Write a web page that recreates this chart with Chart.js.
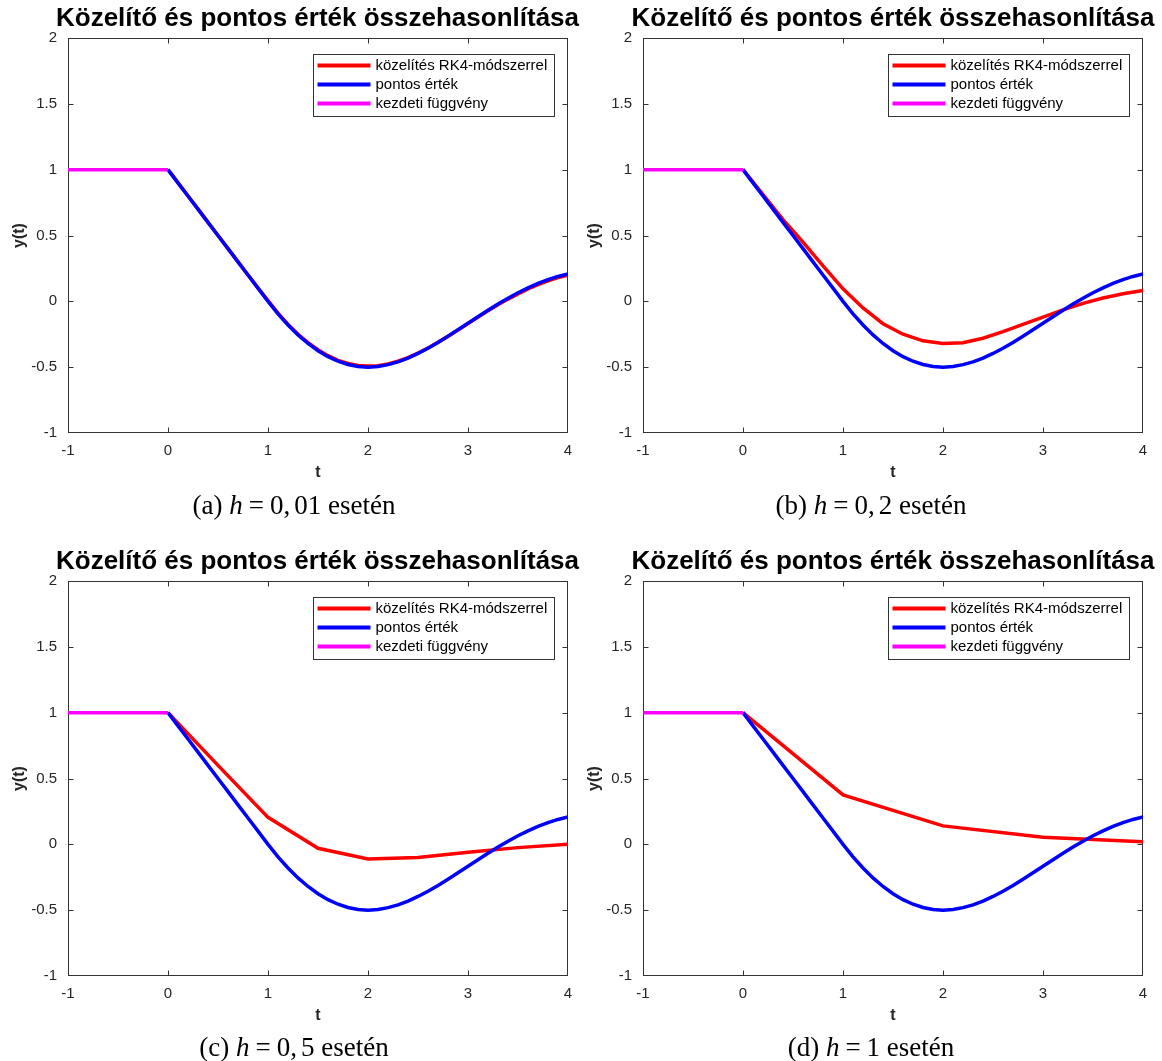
<!DOCTYPE html>
<html>
<head>
<meta charset="utf-8">
<title>Közelítő és pontos érték összehasonlítása</title>
<script src="https://cdn.jsdelivr.net/npm/chart.js@4.4.1/dist/chart.umd.min.js"></script>
<style>
  html, body { margin: 0; padding: 0; background: #fff; }
  #page { position: relative; width: 1162px; height: 1061px; overflow: hidden; background: #fff; }
  #page canvas { position: absolute; }
  .cap {
    position: absolute;
    font-family: 'Liberation Serif', 'Times New Roman', serif;
    font-size: 27px;
    line-height: 1;
    color: #000;
    white-space: nowrap;
    transform: translate(-50%, -50%);
  }
  .cap .eq { padding: 0 0.22em; }
  .cap .cm { margin-right: 0.15em; }
</style>
</head>
<body>
<div id="page">
  <canvas id="panelA" width="635" height="490" style="left:0;top:0"></canvas>
  <canvas id="panelB" width="636" height="490" style="left:575px;top:0"></canvas>
  <canvas id="panelC" width="635" height="490" style="left:0;top:543px"></canvas>
  <canvas id="panelD" width="636" height="490" style="left:575px;top:543px"></canvas>
  <div class="cap" id="capA" style="left:294px;top:505px"></div>
  <div class="cap" id="capB" style="left:871px;top:505px"></div>
  <div class="cap" id="capC" style="left:294px;top:1047px"></div>
  <div class="cap" id="capD" style="left:871px;top:1047px"></div>
</div>
<script>
// ---- text ----
const chartTitle = 'Közelítő és pontos érték összehasonlítása';
const seriesLabels = ['közelítés RK4-módszerrel', 'pontos érték', 'kezdeti függvény'];
const xAxisLabel = 't';
const yAxisLabel = 'y(t)';
const captionTags = ['(a)', '(b)', '(c)', '(d)'];
const captionSteps = ['0,01', '0,2', '0,5', '1'];
const captionWord = 'esetén';

// ---- ticks ----
const xTickValues = [-1, 0, 1, 2, 3, 4];
const xTickLabels = ['-1', '0', '1', '2', '3', '4'];
const yTickValues = [-1, -0.5, 0, 0.5, 1, 1.5, 2];
const yTickLabels = ['-1', '-0.5', '0', '0.5', '1', '1.5', '2'];

// ---- initial function on [-1, 0] ----
const tInit = [-1, 0];
const yInit = [1, 1];

// ---- exact solution ----
const tExact = [0, 0.1, 0.2, 0.3, 0.4, 0.5, 0.6, 0.7, 0.8, 0.9, 1.0,
                1.1, 1.2, 1.3, 1.4, 1.5, 1.6, 1.7, 1.8, 1.9, 2.0,
                2.1, 2.2, 2.3, 2.4, 2.5, 2.6, 2.7, 2.8, 2.9, 3.0,
                3.1, 3.2, 3.3, 3.4, 3.5, 3.6, 3.7, 3.8, 3.9, 4.0];
const yExact = [1, 0.9, 0.8, 0.7, 0.6, 0.5, 0.4, 0.3, 0.2, 0.1, 0,
                -0.095, -0.18, -0.255, -0.32, -0.375, -0.42, -0.455, -0.48, -0.495, -0.5,
                -0.495, -0.481, -0.4595, -0.4307, -0.3958, -0.356, -0.3121, -0.2653, -0.2165, -0.1667,
                -0.1168, -0.068, -0.0208, 0.0237, 0.0651, 0.1027, 0.1361, 0.165, 0.1891, 0.2083];

// ---- RK4, h = 0.01 ----
const tRkA = [0, 0.1, 0.2, 0.3, 0.4, 0.5, 0.6, 0.7, 0.8, 0.9, 1.0,
              1.1, 1.2, 1.3, 1.4, 1.5, 1.6, 1.7, 1.8, 1.9, 2.0,
              2.1, 2.2, 2.3, 2.4, 2.5, 2.6, 2.7, 2.8, 2.9, 3.0,
              3.1, 3.2, 3.3, 3.4, 3.5, 3.6, 3.7, 3.8, 3.9, 4.0];
const yRkA = [1, 0.9, 0.8, 0.7, 0.6, 0.5, 0.4, 0.3, 0.2, 0.1, 0.005,
              -0.09, -0.175, -0.25, -0.314, -0.368, -0.413, -0.448, -0.472, -0.487, -0.492,
              -0.489, -0.476, -0.455, -0.427, -0.393, -0.354, -0.311, -0.265, -0.217, -0.168,
              -0.119, -0.072, -0.026, 0.017, 0.057, 0.094, 0.127, 0.156, 0.18, 0.198];

// ---- RK4, h = 0.2 ----
const tRkB = [0, 0.2, 0.4, 0.6, 0.8, 1.0, 1.2, 1.4, 1.6, 1.8, 2.0,
              2.2, 2.4, 2.6, 2.8, 3.0, 3.2, 3.4, 3.6, 3.8, 4.0];
const yRkB = [1, 0.81, 0.62, 0.45, 0.27, 0.095, -0.05, -0.17, -0.25, -0.3, -0.32,
              -0.315, -0.28, -0.23, -0.175, -0.12, -0.065, -0.015, 0.025, 0.058, 0.082];

// ---- RK4, h = 0.5 ----
const tRkC = [0, 0.5, 1.0, 1.5, 2.0, 2.5, 3.0, 3.5, 4.0];
const yRkC = [1, 0.6, 0.205, -0.03, -0.112, -0.1, -0.06, -0.025, 0.0];

// ---- RK4, h = 1 ----
const tRkD = [0, 1, 2, 3, 4];
const yRkD = [1, 0.375, 0.14, 0.053, 0.02];

// ---- styling ----
const SANS = "'Liberation Sans', Arial, Helvetica, sans-serif";
const AXIS_COLOR = '#333333';
const TEXT_COLOR = '#262626';
const TICK_LEN = 5;
const RED = '#ff0000', BLUE = '#0000ff', MAGENTA = '#ff00ff';

Chart.defaults.font.family = SANS;

const pts = (ts, ys) => ts.map((t, i) => ({ x: t, y: ys[i] }));
const clamp = (v, lo, hi) => Math.min(hi, Math.max(lo, v));

// Axes frame with inward tick marks on all four sides
const frameTicks = {
  id: 'frameTicks',
  beforeDatasetsDraw(chart) {
    const { ctx, chartArea: a, scales } = chart;
    const L = Math.round(a.left) + 0.5, R = Math.round(a.right) - 0.5;
    const T = Math.round(a.top) + 0.5, B = Math.round(a.bottom) - 0.5;
    ctx.save();
    ctx.strokeStyle = AXIS_COLOR;
    ctx.lineWidth = 1;
    ctx.strokeRect(L, T, R - L, B - T);
    ctx.beginPath();
    scales.x.ticks.forEach(tk => {
      const px = clamp(Math.round(scales.x.getPixelForValue(tk.value)) + 0.5, L, R);
      ctx.moveTo(px, B); ctx.lineTo(px, B - TICK_LEN);
      ctx.moveTo(px, T); ctx.lineTo(px, T + TICK_LEN);
    });
    scales.y.ticks.forEach(tk => {
      const py = clamp(Math.round(scales.y.getPixelForValue(tk.value)) + 0.5, T, B);
      ctx.moveTo(L, py); ctx.lineTo(L + TICK_LEN, py);
      ctx.moveTo(R, py); ctx.lineTo(R - TICK_LEN, py);
    });
    ctx.stroke();
    ctx.restore();
  }
};

// Boxed legend in the upper right corner of the plot area
const boxLegend = {
  id: 'boxLegend',
  afterDraw(chart) {
    const { ctx, chartArea: a } = chart;
    const ds = chart.data.datasets;
    ctx.save();
    ctx.font = `15px ${SANS}`;
    const tw = Math.max(...ds.map(d => ctx.measureText(d.label).width));
    const padL = 4.5, lineLen = 53, gap = 5, padR = 7;
    const w = Math.round(padL + lineLen + gap + tw + padR), h = 62;
    const x0 = Math.round(a.right - 14 - w), y0 = Math.round(a.top + 16);
    ctx.fillStyle = '#fff';
    ctx.fillRect(x0, y0, w, h);
    ctx.strokeStyle = AXIS_COLOR;
    ctx.lineWidth = 1;
    ctx.strokeRect(x0 + 0.5, y0 + 0.5, w, h);
    ds.forEach((d, i) => {
      const cy = y0 + 11.5 + 19 * i;
      ctx.strokeStyle = d.borderColor;
      ctx.lineWidth = 4;
      ctx.beginPath();
      ctx.moveTo(x0 + padL, cy);
      ctx.lineTo(x0 + padL + lineLen, cy);
      ctx.stroke();
      ctx.fillStyle = '#000';
      ctx.textAlign = 'left';
      ctx.textBaseline = 'middle';
      ctx.fillText(d.label, x0 + padL + lineLen + gap, cy + 0.5);
    });
    ctx.restore();
  }
};

// The right-hand margin is an unlabelled axis of the same width as the left one,
// so that the full-width title is centred over the plot area.
function makePanel(canvasId, rightMargin, tRk, yRk) {
  const lineStyle = { borderWidth: 3.5, pointRadius: 0, tension: 0, fill: false };
  return new Chart(document.getElementById(canvasId), {
    type: 'line',
    data: {
      datasets: [
        Object.assign({ label: seriesLabels[0], data: pts(tRk, yRk), borderColor: RED, backgroundColor: RED, order: 3 }, lineStyle),
        Object.assign({ label: seriesLabels[1], data: pts(tExact, yExact), borderColor: BLUE, backgroundColor: BLUE, order: 2 }, lineStyle),
        Object.assign({ label: seriesLabels[2], data: pts(tInit, yInit), borderColor: MAGENTA, backgroundColor: MAGENTA, order: 1 }, lineStyle)
      ]
    },
    options: {
      responsive: false,
      maintainAspectRatio: false,
      devicePixelRatio: 1,
      animation: false,
      events: [],
      layout: { padding: 0 },
      plugins: {
        legend: { display: false },
        tooltip: { enabled: false },
        title: {
          display: true,
          text: chartTitle,
          fullSize: true,
          color: '#000',
          font: { size: 26, weight: 'bold', lineHeight: 1.2 },
          padding: { top: 3.5, bottom: 3.3 }
        }
      },
      scales: {
        x: {
          type: 'linear',
          position: 'bottom',
          min: -1, max: 4,
          afterBuildTicks: s => { s.ticks = xTickValues.map(v => ({ value: v })); },
          afterFit: s => { s.height = 57; },
          ticks: {
            autoSkip: false, maxRotation: 0, padding: 9,
            color: TEXT_COLOR, font: { size: 15 },
            callback: v => xTickLabels[xTickValues.indexOf(v)]
          },
          grid: { display: false, drawTicks: false, tickLength: 0 },
          border: { display: false },
          title: {
            display: true, text: xAxisLabel, color: TEXT_COLOR,
            font: { size: 16, weight: 'bold', lineHeight: 1.2 },
            padding: { top: 0, bottom: 8 }
          }
        },
        y: {
          type: 'linear',
          position: 'left',
          min: -1, max: 2,
          afterBuildTicks: s => { s.ticks = yTickValues.map(v => ({ value: v })); },
          afterFit: s => { s.width = 68; },
          ticks: {
            autoSkip: false, padding: 11,
            color: TEXT_COLOR, font: { size: 15 },
            callback: v => yTickLabels[yTickValues.indexOf(v)]
          },
          grid: { display: false, drawTicks: false, tickLength: 0 },
          border: { display: false },
          title: {
            display: true, text: yAxisLabel, color: TEXT_COLOR,
            font: { size: 16, weight: 'bold', lineHeight: 1.2 },
            padding: { top: 10, bottom: 0 }
          }
        },
        yMargin: {
          type: 'linear',
          position: 'right',
          min: -1, max: 2,
          afterFit: s => { s.width = rightMargin; },
          ticks: { display: false },
          grid: { display: false, drawTicks: false, tickLength: 0 },
          border: { display: false },
          title: { display: false }
        }
      }
    },
    plugins: [frameTicks, boxLegend]
  });
}

makePanel('panelA', 67, tRkA, yRkA);
makePanel('panelB', 68, tRkB, yRkB);
makePanel('panelC', 67, tRkC, yRkC);
makePanel('panelD', 68, tRkD, yRkD);

// Sub-figure captions
['capA', 'capB', 'capC', 'capD'].forEach((id, i) => {
  const el = document.getElementById(id);
  const step = captionSteps[i];
  const comma = step.indexOf(',');
  const stepHtml = comma >= 0
    ? step.slice(0, comma) + '<span class="cm">,</span>' + step.slice(comma + 1)
    : step;
  el.innerHTML = `${captionTags[i]} <i>h</i><span class="eq">=</span>${stepHtml} ${captionWord}`;
});
</script>
</body>
</html>
